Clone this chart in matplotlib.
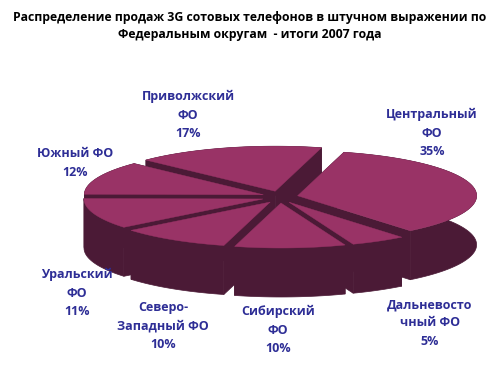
import numpy as np
import matplotlib
matplotlib.use("Agg")
import matplotlib.pyplot as plt
from matplotlib.patches import Polygon

# ---- data ----
regions = ["Центральный\nФО", "Дальневосто\nчный ФО", "Сибирский\nФО",
           "Северо-\nЗападный ФО", "Уральский\nФО", "Южный ФО", "Приволжский\nФО"]
shares = [35, 5, 10, 10, 11, 12, 17]
pct_labels = ["35%", "5%", "10%", "10%", "11%", "12%", "17%"]
title = "Распределение продаж 3G сотовых телефонов в штучном выражении по\nФедеральным округам  - итоги 2007 года"

# ---- layout (pixel-like coordinates) ----
W, H = 500, 365
cx, cy = 280, 197
rx, ry = 179, 45
depth = 49
ex, ey = 18, 6          # explosion offsets
start = 15.0            # degrees clockwise from 12 o'clock
top_col = "#993366"
side_col = "#4b1a36"
txt_col = "#2e2e96"
label_pos = [(432, 133), (430, 323), (278, 330), (163, 326), (77, 293), (75, 163), (188, 115)]

plt.rcParams['font.family'] = ['Open Sans', 'DejaVu Sans']
fig = plt.figure(figsize=(W / 100, H / 100), dpi=100)
ax = fig.add_axes([0, 0, 1, 1])
ax.set_xlim(0, W)
ax.set_ylim(H, 0)
ax.axis("off")

vals = np.array(shares, dtype=float)
angs = np.concatenate([[0], np.cumsum(vals) / vals.sum() * 360.0]) + start

def pt(theta_deg, ox, oy, dz=0.0):
    t = np.radians(theta_deg)
    return (cx + ox + rx * np.sin(t), cy + oy - ry * np.cos(t) + dz)

slices = []
for i in range(len(vals)):
    a0, a1 = angs[i], angs[i + 1]
    mid = np.radians((a0 + a1) / 2)
    ox, oy = ex * np.sin(mid), -ey * np.cos(mid)
    slices.append((-np.cos(mid), i, a0, a1, ox, oy))

for _, i, a0, a1, ox, oy in sorted(slices):
    th = np.linspace(a0, a1, 80)
    top = [pt(t, ox, oy) for t in th]
    bot = [pt(t, ox, oy, depth) for t in th]
    c_top = (cx + ox, cy + oy)
    c_bot = (cx + ox, cy + oy + depth)
    for a in (a0, a1):
        face = [c_top, pt(a, ox, oy), pt(a, ox, oy, depth), c_bot]
        ax.add_patch(Polygon(face, closed=True, fc=side_col, ec=side_col, lw=0.5))
    wall = top + bot[::-1]
    ax.add_patch(Polygon(wall, closed=True, fc=side_col, ec=side_col, lw=0.5))
    ax.add_patch(Polygon([c_top] + top, closed=True, fc=top_col, ec=top_col, lw=0.3))

for name, pct, (x, y) in zip(regions, pct_labels, label_pos):
    ax.text(x, y, name + "\n" + pct, ha="center", va="center", color=txt_col,
            fontsize=9, fontweight="bold", linespacing=1.52)

ax.text(250, 26, title, ha="center", va="center", color="black",
        fontsize=8.8, fontweight="bold", linespacing=1.4)

fig.savefig("out.png", dpi=100, facecolor="white")
